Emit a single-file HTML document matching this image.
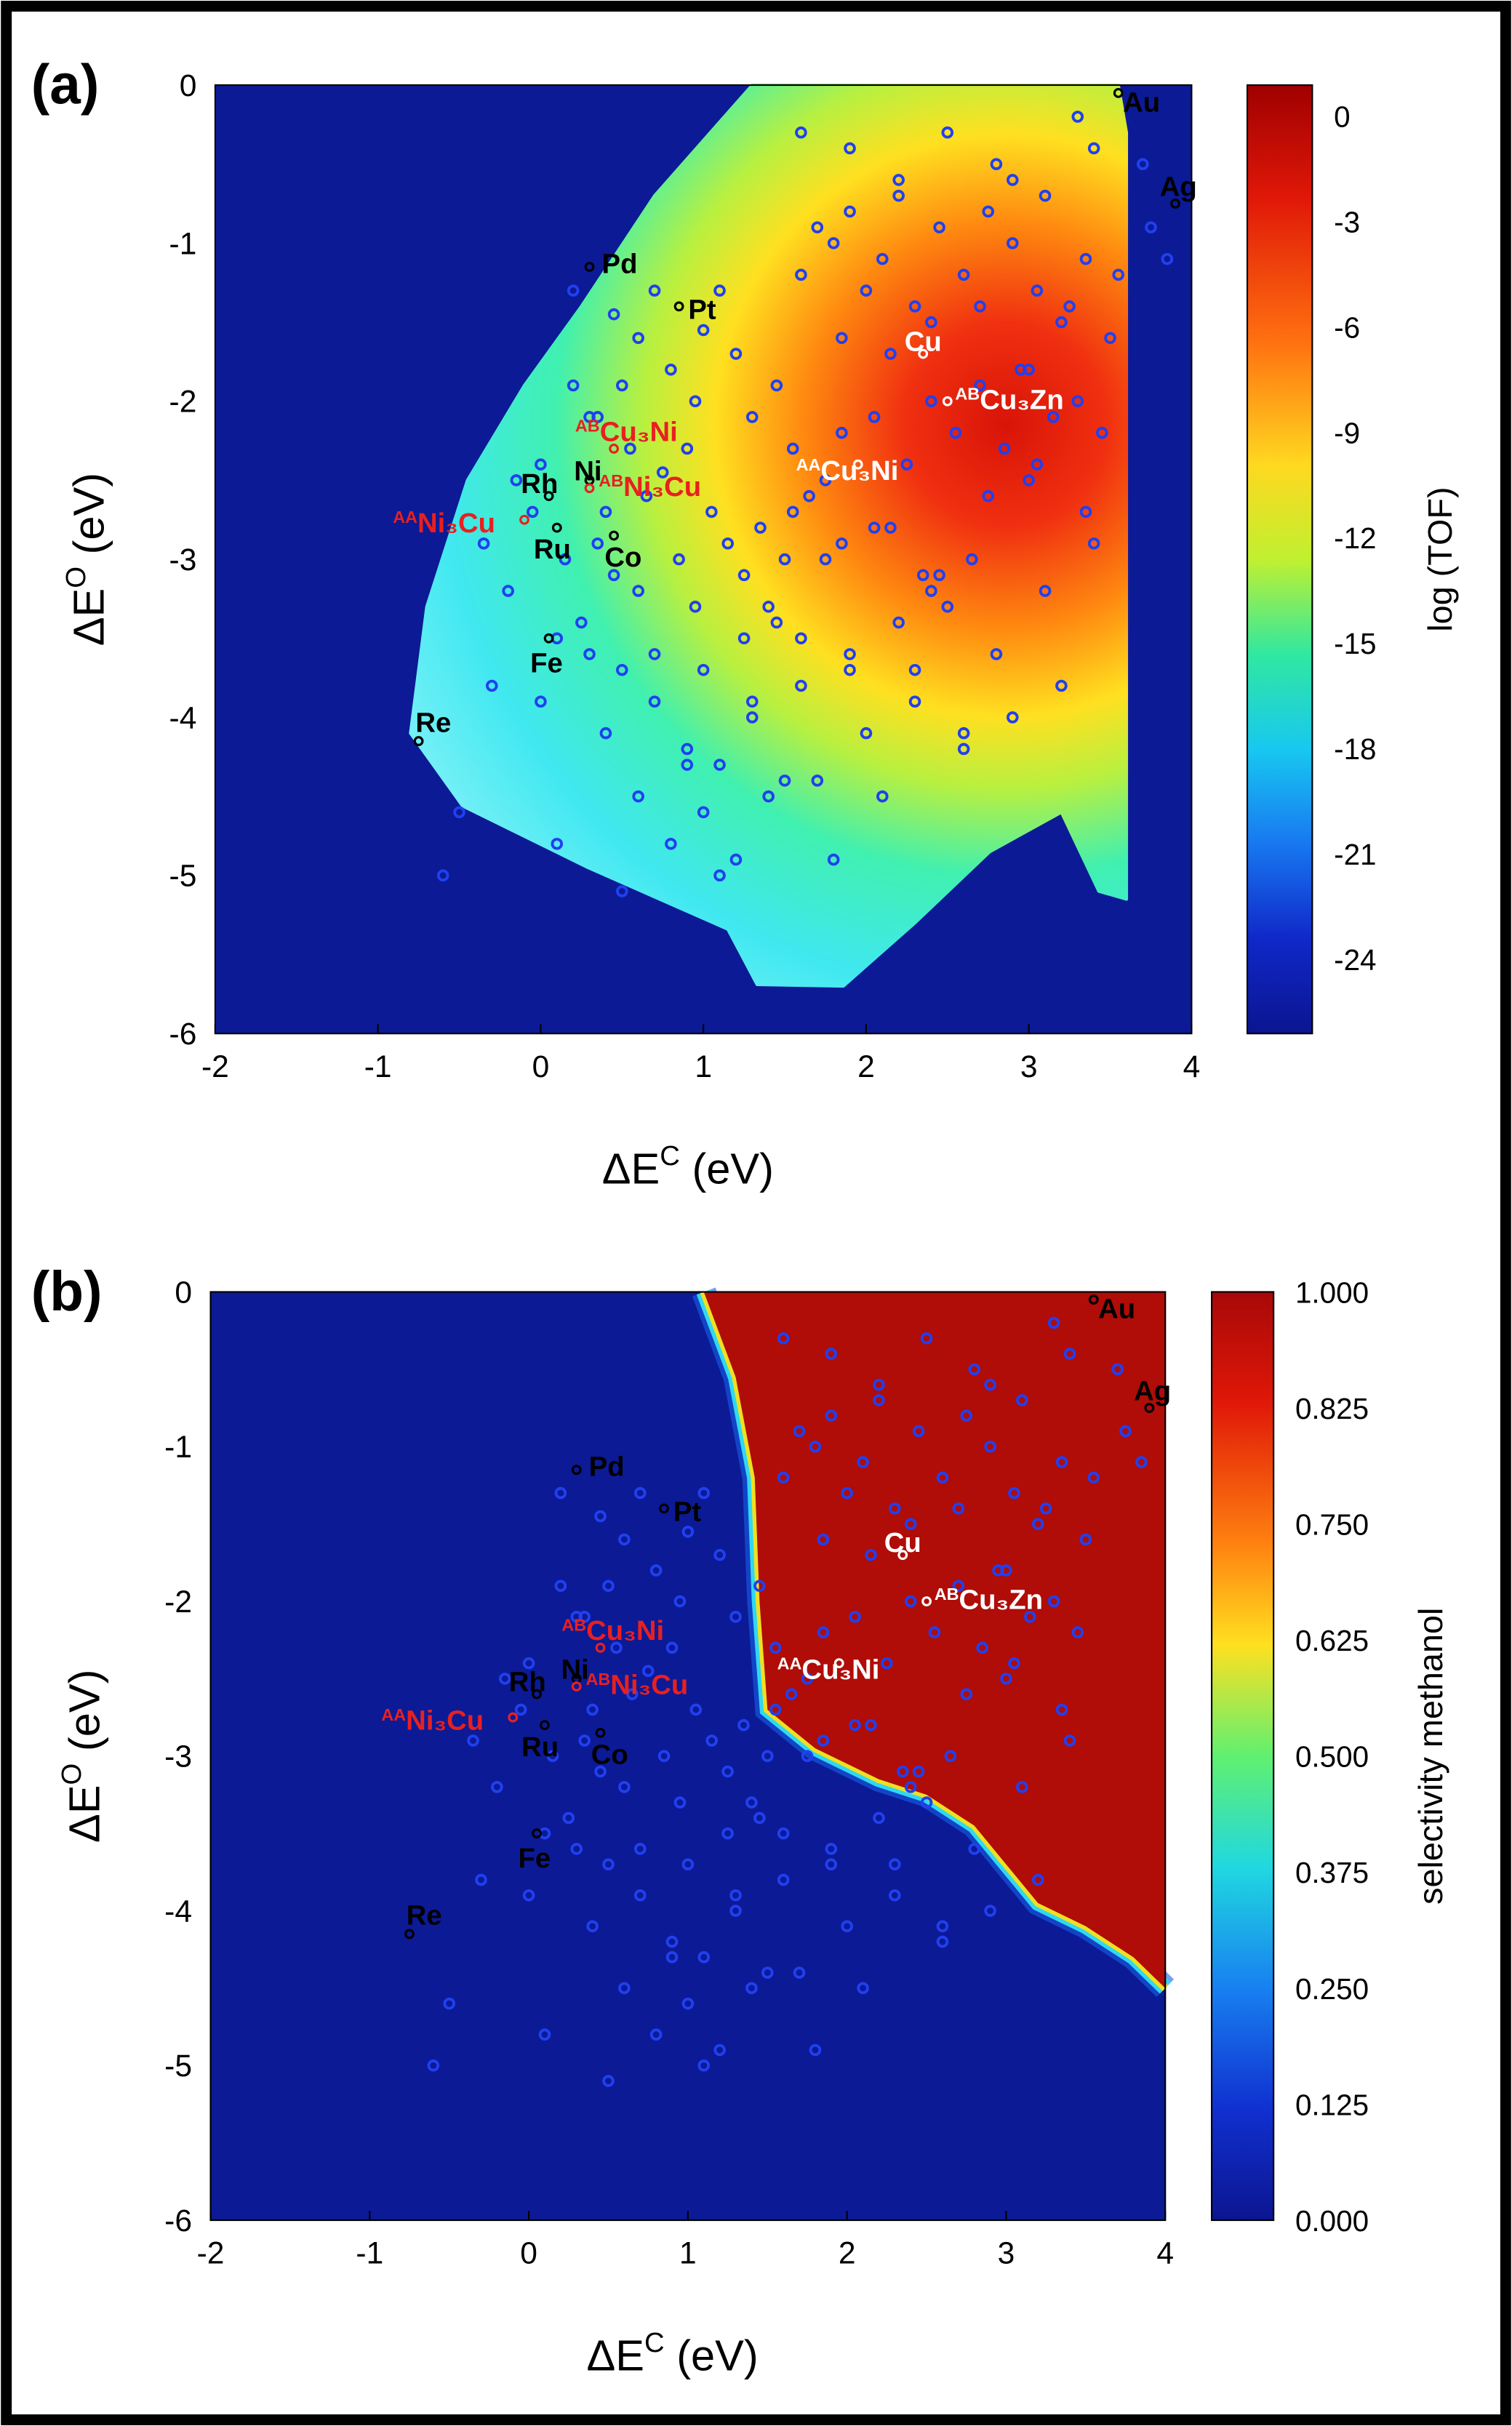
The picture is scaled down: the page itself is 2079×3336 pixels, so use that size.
<!DOCTYPE html>
<html><head><meta charset="utf-8"><style>
html,body{margin:0;padding:0;background:#fff;}
svg{display:block;}
text{font-family:"Liberation Sans",sans-serif;}
</style></head><body>
<svg id="fig" width="2079" height="3336" viewBox="0 0 977 1568" xmlns="http://www.w3.org/2000/svg">
<defs>
<radialGradient id="tofGrad" gradientUnits="userSpaceOnUse" cx="650" cy="275" r="470">
<stop offset="0" stop-color="#d81408"/><stop offset="0.14" stop-color="#f03010"/><stop offset="0.28" stop-color="#ff8a10"/>
<stop offset="0.4" stop-color="#ffe020"/><stop offset="0.5" stop-color="#b8f040"/><stop offset="0.62" stop-color="#40f0b0"/>
<stop offset="0.78" stop-color="#40e8f0"/><stop offset="1" stop-color="#90f4fa"/>
</radialGradient>
<linearGradient id="cbA" x1="0" y1="0" x2="0" y2="1">
<stop offset="0" stop-color="#a00000"/><stop offset="0.12" stop-color="#e01808"/><stop offset="0.27" stop-color="#ff7010"/>
<stop offset="0.4" stop-color="#ffd820"/><stop offset="0.5" stop-color="#c0f030"/><stop offset="0.6" stop-color="#30e8a0"/>
<stop offset="0.7" stop-color="#18c8f0"/><stop offset="0.8" stop-color="#1878f0"/><stop offset="0.9" stop-color="#1028c8"/><stop offset="1" stop-color="#0c1590"/>
</linearGradient>
<linearGradient id="cbB" x1="0" y1="0" x2="0" y2="1">
<stop offset="0" stop-color="#a80808"/><stop offset="0.12" stop-color="#e01808"/><stop offset="0.27" stop-color="#ff8010"/>
<stop offset="0.38" stop-color="#ffe020"/><stop offset="0.5" stop-color="#60f070"/><stop offset="0.62" stop-color="#20d8e0"/>
<stop offset="0.75" stop-color="#1880f0"/><stop offset="0.88" stop-color="#1030d0"/><stop offset="1" stop-color="#0c1590"/>
</linearGradient>
</defs>
<rect x="4" y="4" width="969" height="1560" fill="#fff" stroke="#000" stroke-width="7"/>
<g id="pa"></g>
<g id="pb"></g>
</svg>
<script>
const xTicks=[-2,-1,0,1,2,3,4];
const yTicks=[0,-1,-2,-3,-4,-5,-6];
const cbATicks=[0,-3,-6,-9,-12,-15,-18,-21,-24];
const cbBTicks=["1.000","0.825","0.750","0.625","0.500","0.375","0.250","0.125","0.000"];
// activity region boundary (data coords)
const regionX=[-0.8,-0.7,-0.45,-0.1,0.25,0.7,1.3,3.55,3.6,3.6,3.43,3.2,2.76,2.3,1.86,1.33,1.15,0.29,-0.48,-0.8];
const regionY=[-4.1,-3.3,-2.5,-1.9,-1.4,-0.7,0,0,-0.3,-5.15,-5.1,-4.6,-4.85,-5.3,-5.7,-5.69,-5.34,-4.95,-4.56,-4.1];
// methanol selectivity boundary (data coords), red to the right
const selX=[1.1,1.3,1.42,1.45,1.5,1.8,2.2,2.5,2.8,3.0,3.2,3.5,3.8,4.0];
const selY=[0,-0.55,-1.2,-2.0,-2.7,-2.95,-3.15,-3.25,-3.45,-3.7,-3.95,-4.1,-4.3,-4.5];
const ptX=[0.2,0.45,0.6,0.7,0.5,0.3,0.8,0.95,1.0,1.1,1.2,0.55,0.65,0.4,0.35,0.75,0.9,1.3,1.45,1.6,1.7,1.8,1.9,2.0,2.1,2.2,2.3,2.45,2.6,2.75,2.9,3.05,3.2,3.35,3.5,1.55,1.65,1.75,1.85,2.05,2.25,2.4,2.55,2.7,2.85,3.0,3.15,3.3,3.45,1.35,1.5,1.4,1.25,1.15,1.05,0.85,0.6,0.45,0.25,0.15,-0.05,-0.2,-0.35,0.0,0.1,0.3,0.5,0.7,0.9,1.1,1.3,1.6,1.9,2.2,2.5,2.8,3.1,3.4,1.7,2.0,2.3,2.6,2.9,3.2,1.55,1.85,2.15,2.45,2.75,3.05,3.35,1.0,1.2,1.4,0.8,0.6,0.4,-0.3,-0.5,-0.6,0.1,0.5,0.9,1.1,1.5,1.8,2.1,2.4,2.6,1.3,1.6,1.9,2.3,1.0,1.25,1.45,0.7,0.95,1.75,2.05,2.35,2.65,2.95,3.25,3.55,3.7,3.85,3.75,1.9,2.2,2.5,2.8,3.1,3.4,0.2,0.0,-0.15,0.35,1.6,2.9,3.3,1.85,2.15,2.4,2.7,3.0];
const ptY=[-1.3,-1.45,-1.6,-1.3,-1.9,-2.1,-1.8,-2.0,-1.55,-1.3,-1.7,-2.3,-2.6,-2.7,-2.9,-2.45,-2.3,-2.1,-1.9,-1.2,-0.9,-1.0,-0.8,-1.3,-1.1,-0.7,-1.4,-0.9,-1.2,-0.8,-1.0,-1.3,-1.5,-1.1,-1.6,-2.3,-2.6,-2.5,-2.2,-2.1,-2.4,-2.0,-2.2,-1.9,-2.3,-2.5,-2.1,-2.0,-2.2,-2.8,-3.0,-3.3,-3.1,-2.9,-2.7,-3.0,-3.2,-3.1,-3.4,-3.0,-2.7,-3.2,-2.9,-3.9,-3.5,-3.6,-3.7,-3.9,-4.2,-4.3,-4.0,-3.8,-3.6,-3.4,-3.3,-3.6,-3.2,-2.9,-4.4,-4.1,-3.7,-4.2,-4.0,-3.8,-2.7,-2.9,-2.8,-3.1,-2.6,-2.4,-2.7,-4.6,-4.9,-4.5,-4.8,-4.5,-4.1,-3.8,-4.6,-5.0,-4.8,-5.1,-4.3,-5.0,-4.4,-4.9,-4.5,-3.2,-4.1,-3.9,-3.5,-3.7,-3.9,-3.7,-3.5,-3.4,-3.6,-3.3,-3.0,-2.8,-3.1,-3.0,-1.8,-1.4,-1.2,-0.5,-1.1,-0.9,-0.4,-0.6,-0.3,-0.5,-0.7,-0.4,-1.9,-2.4,-2.5,-2.1,-0.3,-0.6,-0.2,-1.6,-1.7,-1.5,-1.4,-1.8];
const labelNames=["Au","Ag","Pd","Pt","Cu","Cu3Zn","Cu3Ni-AA","Cu3Ni-AB","Ni","Rh","Ni3Cu-AB","Ni3Cu-AA","Ru","Co","Fe","Re"];
const labelX=[3.55,3.9,0.3,0.85,2.35,2.5,1.95,0.45,0.3,0.05,0.3,-0.1,0.1,0.45,0.05,-0.75];
const labelY=[-0.05,-0.75,-1.15,-1.4,-1.7,-2.0,-2.4,-2.3,-2.5,-2.6,-2.55,-2.75,-2.8,-2.85,-3.5,-4.15];
const labelHtml=[["Au","",3,12,"#000"],["Ag","",-10,-5,"#000"],["Pd","",8,4,"#000"],["Pt","",6,8,"#000"],["Cu","",-12,-2,"#fff"],["Cu₃Zn","AB",5,5,"#fff"],["Cu₃Ni","AA",-40,10,"#fff"],["Cu₃Ni","AB",-25,-5,"#e82020"],["Ni","",-10,0,"#000"],["Rh","",-18,-2,"#000"],["Ni₃Cu","AB",6,5,"#e82020"],["Ni₃Cu","AA",-85,8,"#e82020"],["Ru","",-15,20,"#000"],["Co","",-6,20,"#000"],["Fe","",-12,22,"#000"],["Re","",-2,-6,"#000"]];

const NS="http://www.w3.org/2000/svg";
function mk(parent,tag,attrs){const e=document.createElementNS(NS,tag);for(const k in attrs)e.setAttribute(k,attrs[k]);parent.appendChild(e);return e;}

function panel(g,P){
  const sx=v=>P.x0+(v+2)*(P.x1-P.x0)/6;
  const sy=v=>P.y0+(-v)*(P.y1-P.y0)/6;
  const bg=mk(g,'rect',{x:P.x0,y:P.y0,width:P.x1-P.x0,height:P.y1-P.y0,fill:'#0c1a96'});
  
  
  if(P.kind==='a'){
    const pts=regionX.map((x,i)=>sx(x)+','+sy(regionY[i])).join(' ');
    const r=mk(g,'polygon',{points:pts,fill:'url(#tofGrad)',"stroke":"url(#tofGrad)","stroke-width":2,"stroke-linejoin":"round"});
    
    
  } else {
    let pts=selX.map((x,i)=>sx(x)+','+sy(selY[i]));
    pts.push(sx(4)+','+sy(0));
    const line=selX.map((x,i)=>sx(x)+','+sy(selY[i])).join(' ');
    const hl0=mk(g,'polyline',{points:line,fill:'none',stroke:'#1860e8',"stroke-width":16,opacity:0.6});
    
    
    const hl=mk(g,'polyline',{points:line,fill:'none',stroke:'#30d8f0',"stroke-width":10});
    
    
    const hl2=mk(g,'polyline',{points:line,fill:'none',stroke:'#f0e020',"stroke-width":5});
    
    
    const r=mk(g,'polygon',{points:pts.join(' '),fill:'#b00c08'});
    
    
  }
  ptX.forEach((x,i)=>{
    const c=mk(g,'circle',{cx:sx(x),cy:sy(ptY[i]),r:3,fill:'none',stroke:'#2040f0',"stroke-width":1.8});
    
    
  });
  labelNames.forEach((n,i)=>{
    const L=labelHtml[i];
    const px=sx(labelX[i]),py=sy(labelY[i]);
    const c=mk(g,'circle',{cx:px,cy:py,r:2.5,fill:'none',stroke:L[4]==='#fff'?'#fff':(L[4]==='#000'?'#000':'#e82020'),"stroke-width":1.5});
    
    
    const t=mk(g,'text',{x:px+L[2],y:py+L[3],fill:L[4],"font-size":18,"font-weight":"bold"});
    
    
    if(L[1]){const s=mk(t,'tspan',{"font-size":11,dy:-6});s.textContent=L[1];const m=mk(t,'tspan',{dy:6});m.textContent=L[0];}
    else t.textContent=L[0];
  });
  const fr=mk(g,'rect',{x:P.x0,y:P.y0,width:P.x1-P.x0,height:P.y1-P.y0,fill:'none',stroke:'#000',"stroke-width":1});
  
  
  xTicks.forEach(v=>{
    const t=mk(g,'text',{x:sx(v),y:P.y1+28,"text-anchor":"middle","font-size":20});
    
    
    t.textContent=v;
    const l=mk(g,'line',{x1:sx(v),x2:sx(v),y1:P.y1,y2:P.y1-6,stroke:'#000'});
    
    
  });
  yTicks.forEach(v=>{
    const t=mk(g,'text',{x:P.x0-12,y:sy(v)+7,"text-anchor":"end","font-size":20});
    
    
    t.textContent=v;
  });
  const xl=mk(g,'text',{x:(P.x0+P.x1)/2-10,y:P.y1+97,"text-anchor":"middle","font-size":28,"font-family":"Liberation Serif, serif"});
  
  
  xl.innerHTML='ΔE<tspan font-size="18" dy="-12">C</tspan><tspan dy="12"> (eV)</tspan>';
  const yl=mk(g,'text',{x:0,y:0,"text-anchor":"middle","font-size":28,"font-family":"Liberation Serif, serif",transform:`translate(${P.x0-72},${(P.y0+P.y1)/2}) rotate(-90)`});
  
  
  yl.innerHTML='ΔE<tspan font-size="18" dy="-12">O</tspan><tspan dy="12"> (eV)</tspan>';
  const pl=mk(g,'text',{x:20,y:P.y0+12,"font-size":36,"font-weight":"bold"});
  
  
  pl.textContent=P.kind==='a'?'(a)':'(b)';
  const cb=mk(g,'rect',{x:P.cx,y:P.y0,width:P.cw,height:P.y1-P.y0,fill:P.kind==='a'?'url(#cbA)':'url(#cbB)',stroke:'#000',"stroke-width":1});
  
  
  const ticks=P.kind==='a'?cbATicks:cbBTicks;
  ticks.forEach((v,i)=>{
    let y;
    if(P.kind==='a') y=P.y0+20+(-v)*(545/24);
    else y=P.y0+i*(P.y1-P.y0)/8;
    const t=mk(g,'text',{x:P.cx+P.cw+14,y:y+7,"font-size":19});
    
    
    t.textContent=v;
  });
  const ct=mk(g,'text',{x:0,y:0,"text-anchor":"middle","font-size":22,transform:`translate(${P.ctx},${(P.y0+P.y1)/2}) rotate(-90)`});
  
  
  ct.textContent=P.kind==='a'?'log (TOF)':'selectivity methanol';
}
panel(document.getElementById('pa'),{kind:'a',x0:139,x1:770,y0:55,y1:668,cx:806,cw:42,ctx:938});
panel(document.getElementById('pb'),{kind:'b',x0:136,x1:753,y0:835,y1:1435,cx:783,cw:40,ctx:932});
</script>
</body></html>
